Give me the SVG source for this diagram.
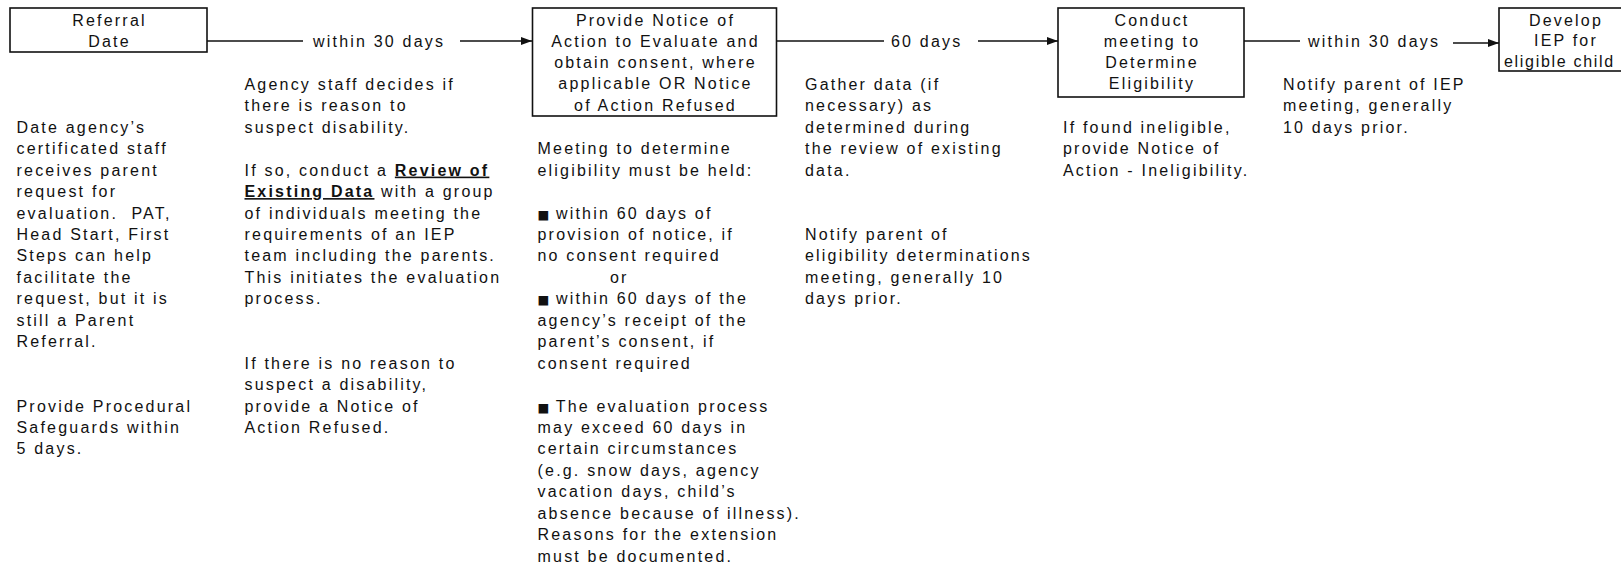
<svg xmlns="http://www.w3.org/2000/svg" width="1621" height="567" viewBox="0 0 1621 567">
<style>
  text { font-family: "Liberation Sans", Arial, sans-serif; font-size: 16px; letter-spacing: 2.2px; fill: #111; }
  .box { fill: #fff; stroke: #111; stroke-width: 1.6; }
  .ctr { text-anchor: middle; }
  .ln { stroke: #111; stroke-width: 1.4; fill: none; }
  .u { font-weight: bold; text-decoration: underline; }
  .blt { font-family: "DejaVu Sans", sans-serif; font-size: 12.5px; letter-spacing: 0; }
</style>
<defs>
  <marker id="ah" markerUnits="userSpaceOnUse" markerWidth="12" markerHeight="9" refX="11" refY="4" orient="auto">
    <path d="M0,0 L11,4 L0,8 z" fill="#111"/>
  </marker>
</defs>
<rect width="1621" height="567" fill="#fff"/>

<g id="connectors">
  <path class="ln" d="M207,41 H303"/>
  <text x="313" y="46.5">within 30 days</text>
  <path class="ln" d="M460,41 H532" marker-end="url(#ah)"/>
  <path class="ln" d="M776,41 H884"/>
  <text x="891" y="46.5">60 days</text>
  <path class="ln" d="M978,41 H1058" marker-end="url(#ah)"/>
  <path class="ln" d="M1244,41 H1300"/>
  <text x="1308" y="46.5">within 30 days</text>
  <path class="ln" d="M1453,43 H1499" marker-end="url(#ah)"/>
</g>

<g id="node-referral">
  <rect class="box" x="10" y="8" width="197" height="44"/>
  <text class="ctr" x="109.5" y="26">Referral</text>
  <text class="ctr" x="109.5" y="47.3">Date</text>
</g>

<g id="node-notice">
  <rect class="box" x="532.5" y="8" width="244" height="108"/>
  <text class="ctr" x="655.5" y="25.5">Provide Notice of</text>
  <text class="ctr" x="655.5" y="46.8">Action to Evaluate and</text>
  <text class="ctr" x="655.5" y="68.1">obtain consent, where</text>
  <text class="ctr" x="655.5" y="89.4">applicable OR Notice</text>
  <text class="ctr" x="655.5" y="110.7">of Action Refused</text>
</g>

<g id="node-eligibility">
  <rect class="box" x="1058" y="8" width="186" height="89"/>
  <text class="ctr" x="1152" y="25.5">Conduct</text>
  <text class="ctr" x="1152" y="46.8">meeting to</text>
  <text class="ctr" x="1152" y="68.1">Determine</text>
  <text class="ctr" x="1152" y="89.4">Eligibility</text>
</g>

<g id="node-iep">
  <rect class="box" x="1499" y="8" width="140" height="63"/>
  <text class="ctr" x="1566" y="26">Develop</text>
  <text class="ctr" x="1566" y="46.3">IEP for</text>
  <text x="1504" y="66.5" style="letter-spacing:1.7px">eligible child</text>
</g>

<g id="note-referral">
  <text x="16.5" y="132.7" xml:space="preserve"><tspan x="16.5">Date agency’s</tspan><tspan x="16.5" dy="21.45">certificated staff</tspan><tspan x="16.5" dy="21.45">receives parent</tspan><tspan x="16.5" dy="21.45">request for</tspan><tspan x="16.5" dy="21.45">evaluation.  PAT,</tspan><tspan x="16.5" dy="21.45">Head Start, First</tspan><tspan x="16.5" dy="21.45">Steps can help</tspan><tspan x="16.5" dy="21.45">facilitate the</tspan><tspan x="16.5" dy="21.45">request, but it is</tspan><tspan x="16.5" dy="21.45">still a Parent</tspan><tspan x="16.5" dy="21.45">Referral.</tspan><tspan x="16.5" dy="64.35">Provide Procedural</tspan><tspan x="16.5" dy="21.45">Safeguards within</tspan><tspan x="16.5" dy="21.45">5 days.</tspan></text>
</g>

<g id="note-review">
  <text x="244.5" y="89.8"><tspan x="244.5">Agency staff decides if</tspan><tspan x="244.5" dy="21.45">there is reason to</tspan><tspan x="244.5" dy="21.45">suspect disability.</tspan><tspan x="244.5" dy="42.9">If so, conduct a <tspan class="u">Review of</tspan></tspan><tspan x="244.5" dy="21.45"><tspan class="u">Existing Data</tspan> with a group</tspan><tspan x="244.5" dy="21.45">of individuals meeting the</tspan><tspan x="244.5" dy="21.45">requirements of an IEP</tspan><tspan x="244.5" dy="21.45">team including the parents.</tspan><tspan x="244.5" dy="21.45">This initiates the evaluation</tspan><tspan x="244.5" dy="21.45">process.</tspan><tspan x="244.5" dy="64.35">If there is no reason to</tspan><tspan x="244.5" dy="21.45">suspect a disability,</tspan><tspan x="244.5" dy="21.45">provide a Notice of</tspan><tspan x="244.5" dy="21.45">Action Refused.</tspan></text>
</g>

<g id="note-meeting">
  <text x="537.5" y="154.15"><tspan x="537.5">Meeting to determine</tspan><tspan x="537.5" dy="21.45">eligibility must be held:</tspan><tspan x="537.5" dy="42.9"><tspan class="blt">■</tspan> within 60 days of</tspan><tspan x="537.5" dy="21.45">provision of notice, if</tspan><tspan x="537.5" dy="21.45">no consent required</tspan><tspan x="610" dy="21.45">or</tspan><tspan x="537.5" dy="21.45"><tspan class="blt">■</tspan> within 60 days of the</tspan><tspan x="537.5" dy="21.45">agency’s receipt of the</tspan><tspan x="537.5" dy="21.45">parent’s consent, if</tspan><tspan x="537.5" dy="21.45">consent required</tspan><tspan x="537.5" dy="42.9"><tspan class="blt">■</tspan> The evaluation process</tspan><tspan x="537.5" dy="21.45">may exceed 60 days in</tspan><tspan x="537.5" dy="21.45">certain circumstances</tspan><tspan x="537.5" dy="21.45">(e.g. snow days, agency</tspan><tspan x="537.5" dy="21.45">vacation days, child’s</tspan><tspan x="537.5" dy="21.45">absence because of illness).</tspan><tspan x="537.5" dy="21.45">Reasons for the extension</tspan><tspan x="537.5" dy="21.45">must be documented.</tspan></text>
</g>

<g id="note-gather">
  <text x="805" y="89.8"><tspan x="805">Gather data (if</tspan><tspan x="805" dy="21.45">necessary) as</tspan><tspan x="805" dy="21.45">determined during</tspan><tspan x="805" dy="21.45">the review of existing</tspan><tspan x="805" dy="21.45">data.</tspan><tspan x="805" dy="64.35">Notify parent of</tspan><tspan x="805" dy="21.45">eligibility determinations</tspan><tspan x="805" dy="21.45">meeting, generally 10</tspan><tspan x="805" dy="21.45">days prior.</tspan></text>
</g>

<g id="note-ineligible">
  <text x="1063" y="132.7"><tspan x="1063">If found ineligible,</tspan><tspan x="1063" dy="21.45">provide Notice of</tspan><tspan x="1063" dy="21.45">Action - Ineligibility.</tspan></text>
</g>

<g id="note-iep">
  <text x="1283" y="89.8"><tspan x="1283">Notify parent of IEP</tspan><tspan x="1283" dy="21.45">meeting, generally</tspan><tspan x="1283" dy="21.45">10 days prior.</tspan></text>
</g>
</svg>
